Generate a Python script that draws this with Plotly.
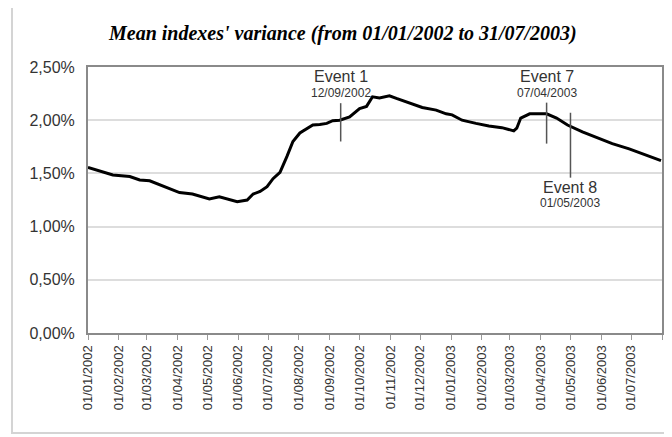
import plotly.graph_objects as go

# ---- data ----
dates = ["2002-01-01", "2002-01-13", "2002-01-26", "2002-02-12", "2002-02-22", "2002-03-04",
         "2002-03-17", "2002-04-03", "2002-04-16", "2002-05-03", "2002-05-13", "2002-05-31",
         "2002-06-10", "2002-06-16", "2002-06-23", "2002-06-30", "2002-07-06", "2002-07-13",
         "2002-07-20", "2002-07-26", "2002-08-02", "2002-08-09", "2002-08-15", "2002-08-22",
         "2002-08-29", "2002-09-04", "2002-09-11", "2002-09-21", "2002-10-01", "2002-10-08",
         "2002-10-14", "2002-10-21", "2002-10-31", "2002-11-07", "2002-11-20", "2002-12-03",
         "2002-12-17", "2002-12-27", "2003-01-02", "2003-01-12", "2003-01-26", "2003-02-08",
         "2003-02-21", "2003-03-05", "2003-03-08", "2003-03-12", "2003-03-21", "2003-03-31",
         "2003-04-07", "2003-04-17", "2003-04-28", "2003-05-13", "2003-05-27", "2003-06-12",
         "2003-06-29", "2003-07-16", "2003-07-31"]
variance = [1.557, 1.525, 1.485, 1.47, 1.438, 1.43,
            1.38, 1.32, 1.306, 1.26, 1.28, 1.234,
            1.25, 1.306, 1.33, 1.375, 1.45, 1.51,
            1.66, 1.80, 1.88, 1.925, 1.955, 1.96,
            1.97, 1.995, 2.00, 2.03, 2.11, 2.13,
            2.22, 2.21, 2.23, 2.205, 2.16, 2.12,
            2.095, 2.06, 2.05, 2.00, 1.97, 1.945,
            1.93, 1.90, 1.925, 2.02, 2.06, 2.06,
            2.06, 2.02, 1.955, 1.89, 1.84, 1.78,
            1.73, 1.67, 1.62]

event_names = ["Event 1", "Event 7", "Event 8"]
event_dates = ["2002-09-12", "2003-04-07", "2003-05-01"]
event_labels = ["12/09/2002", "07/04/2003", "01/05/2003"]
event_low = [1.80, 1.78, 1.46]
event_high = [2.16, 2.165, 2.07]
event_name_y = [2.415, 2.415, 1.372]
event_date_y = [2.255, 2.255, 1.22]

tick_dates = ["2002-01-01", "2002-02-01", "2002-03-01", "2002-04-01", "2002-05-01", "2002-06-01",
              "2002-07-01", "2002-08-01", "2002-09-01", "2002-10-01", "2002-11-01", "2002-12-01",
              "2003-01-01", "2003-02-01", "2003-03-01", "2003-04-01", "2003-05-01", "2003-06-01",
              "2003-07-01", "2003-08-01"]
tick_text = ["01/01/2002", "01/02/2002", "01/03/2002", "01/04/2002", "01/05/2002", "01/06/2002",
             "01/07/2002", "01/08/2002", "01/09/2002", "01/10/2002", "01/11/2002", "01/12/2002",
             "01/01/2003", "01/02/2003", "01/03/2003", "01/04/2003", "01/05/2003", "01/06/2003",
             "01/07/2003", ""]
y_ticks = [0, 0.5, 1.0, 1.5, 2.0, 2.5]
y_text = ["0,00%", "0,50%", "1,00%", "1,50%", "2,00%", "2,50%"]

fig = go.Figure()
fig.add_trace(go.Scatter(x=dates, y=variance, mode="lines",
                         line=dict(color="black", width=3), showlegend=False))

shapes = []
annotations = []
for name, d, lab, lo, hi, ny, dy in zip(event_names, event_dates, event_labels,
                                        event_low, event_high, event_name_y, event_date_y):
    shapes.append(dict(type="line", xref="x", yref="y", x0=d, x1=d, y0=lo, y1=hi,
                       line=dict(color="#555555", width=1.5)))
    annotations.append(dict(x=d, y=ny, xref="x", yref="y", text=name, showarrow=False,
                            font=dict(family="Liberation Sans, Arial", size=16, color="#333333")))
    annotations.append(dict(x=d, y=dy, xref="x", yref="y", text=lab, showarrow=False,
                            font=dict(family="Liberation Sans, Arial", size=12, color="#333333")))

# outer frame around the whole picture
shapes.append(dict(type="rect", xref="paper", yref="paper", x0=-0.1324, x1=1.016,
                   y0=-0.376, y1=1.233, line=dict(color="#d4d4d4", width=2), layer="below"))

annotations.append(dict(x=0.443, y=1.175, xref="paper", yref="paper",
                        text="<b><i>Mean indexes' variance (from 01/01/2002 to 31/07/2003)</i></b>",
                        showarrow=False,
                        font=dict(family="Liberation Serif, Times New Roman", size=20, color="black")))

fig.update_layout(
    width=672, height=437,
    margin=dict(l=80, r=18, t=59, b=112, autoexpand=False),
    paper_bgcolor="white", plot_bgcolor="white",
    shapes=shapes, annotations=annotations,
    xaxis=dict(type="date", range=["2002-01-01", "2003-08-01"], automargin=False,
               tickvals=tick_dates, ticktext=tick_text, tickangle=-90,
               ticks="outside", ticklen=5, tickcolor="#999999",
               showgrid=False, showline=True, linecolor="#8a8a8a", linewidth=2, mirror=True,
               tickfont=dict(family="Liberation Sans, Arial", size=13, color="#333333")),
    yaxis=dict(range=[0, 2.5], tickvals=y_ticks, ticktext=y_text, automargin=False,
               showgrid=True, gridcolor="#dddddd", gridwidth=1.5,
               showline=True, linecolor="#8a8a8a", linewidth=2, mirror=True,
               ticks="", ticklabelstandoff=8, zeroline=False,
               tickfont=dict(family="Liberation Sans, Arial", size=16, color="#333333")),
)

fig.write_html("out.html")
